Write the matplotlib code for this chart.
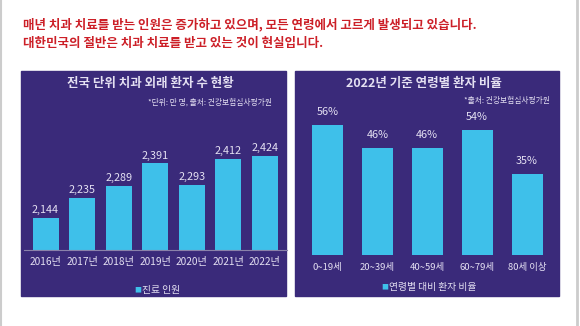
import matplotlib
matplotlib.use("Agg")
import matplotlib.pyplot as plt
from matplotlib.patches import Rectangle
from matplotlib.lines import Line2D

plt.rcParams['font.family'] = ['Noto Sans CJK KR', 'DejaVu Sans']

years = ['2016년', '2017년', '2018년', '2019년', '2020년', '2021년', '2022년']
patients = [2144, 2235, 2289, 2391, 2293, 2412, 2424]
patient_labels = ['2,144', '2,235', '2,289', '2,391', '2,293', '2,412', '2,424']

ages = ['0~19세', '20~39세', '40~59세', '60~79세', '80세 이상']
ratios = [56, 46, 46, 54, 35]

headline = ['매년 치과 치료를 받는 인원은 증가하고 있으며, 모든 연령에서 고르게 발생되고 있습니다.',
            '대한민국의 절반은 치과 치료를 받고 있는 것이 현실입니다.']
left_title = '전국 단위 치과 외래 환자 수 현황'
left_note = '*단위: 만 명, 출처: 건강보험심사평가원'
left_legend = '진료 인원'
right_title = '2022년 기준 연령별 환자 비율'
right_note = '*출처: 건강보험심사평가원'
right_legend = '연령별 대비 환자 비율'

W, H = 580, 326
PANEL = '#3a2a7a'
BAR = '#3ec0ea'
TXT = '#e4e0f2'
RED = '#cc1f27'

fig = plt.figure(figsize=(W / 100, H / 100), dpi=100)
fig.patch.set_facecolor('white')


def fx(px):
    return px / W


def fy(py):
    return 1 - py / H


# slide border lines
fig.add_artist(Line2D([fx(1), fx(1)], [0, 1], color='#cccccc', lw=1.5))
fig.add_artist(Line2D([fx(577), fx(577)], [0, 1], color='#cccccc', lw=2))

# headline
for i, line in enumerate(headline):
    fig.text(fx(23), fy(25 + 18 * i), line, color=RED, fontsize=9.0,
             va='center', ha='left', fontweight='bold')

# panels
fig.add_artist(Rectangle((fx(21), fy(296)), fx(286 - 21), (296 - 71) / H,
                         transform=fig.transFigure, color=PANEL, zorder=0))
fig.add_artist(Rectangle((fx(295), fy(296)), fx(559 - 295), (296 - 71) / H,
                         transform=fig.transFigure, color=PANEL, zorder=0))

# ---- left chart ----
ax1 = fig.add_axes([fx(23.6), fy(250), fx(286.9 - 23.6), (250 - 110) / H])
ax1.set_facecolor('none')
x1 = range(len(years))
ax1.bar(x1, patients, width=0.71, color=BAR, zorder=2)
ax1.set_xlim(-0.6, 6.6)
ax1.set_ylim(2000, 2632)
for xi, v, lab in zip(x1, patients, patient_labels):
    ax1.text(xi, v + 12, lab, color=TXT, fontsize=7.8, ha='center', va='bottom')
ax1.set_xticks(list(x1))
ax1.set_xticklabels(years, color=TXT, fontsize=7.3)
ax1.tick_params(axis='x', length=0, pad=5)
ax1.set_yticks([])
for s in ['top', 'right', 'left']:
    ax1.spines[s].set_visible(False)
ax1.spines['bottom'].set_color('#8a82aa')
ax1.spines['bottom'].set_linewidth(0.8)

fig.text(fx(150), fy(83), left_title, color=TXT, fontsize=9, ha='center',
         va='center', fontweight='bold')
fig.text(fx(272), fy(102), left_note, color=TXT, fontsize=5.6, ha='right',
         va='center')
fig.text(fx(141), fy(290), '■', color=BAR, fontsize=5, ha='right', va='center')
fig.text(fx(142), fy(290), left_legend, color=TXT, fontsize=7, ha='left',
         va='center')

# ---- right chart ----
ax2 = fig.add_axes([fx(297.6), fy(255), fx(557 - 297.6), (255 - 110) / H])
ax2.set_facecolor('none')
x2 = range(len(ages))
ax2.bar(x2, ratios, width=0.62, color=BAR, zorder=2)
ax2.set_xlim(-0.6, 4.6)
ax2.set_ylim(0, 62.5)
for xi, v in zip(x2, ratios):
    ax2.text(xi, v + 3.5, f'{v}%', color=TXT, fontsize=7.8, ha='center',
             va='bottom')
ax2.set_xticks(list(x2))
ax2.set_xticklabels(ages, color=TXT, fontsize=6.8)
ax2.tick_params(axis='x', length=0, pad=6)
ax2.set_yticks([])
for s in ax2.spines.values():
    s.set_visible(False)

fig.text(fx(424), fy(83), right_title, color=TXT, fontsize=9, ha='center',
         va='center', fontweight='bold')
fig.text(fx(550), fy(101), right_note, color=TXT, fontsize=5.6, ha='right',
         va='center')
fig.text(fx(388), fy(287), '■', color=BAR, fontsize=5, ha='right', va='center')
fig.text(fx(389), fy(287), right_legend, color=TXT, fontsize=7, ha='left',
         va='center')

fig.savefig('out.png', dpi=100, facecolor='white')
